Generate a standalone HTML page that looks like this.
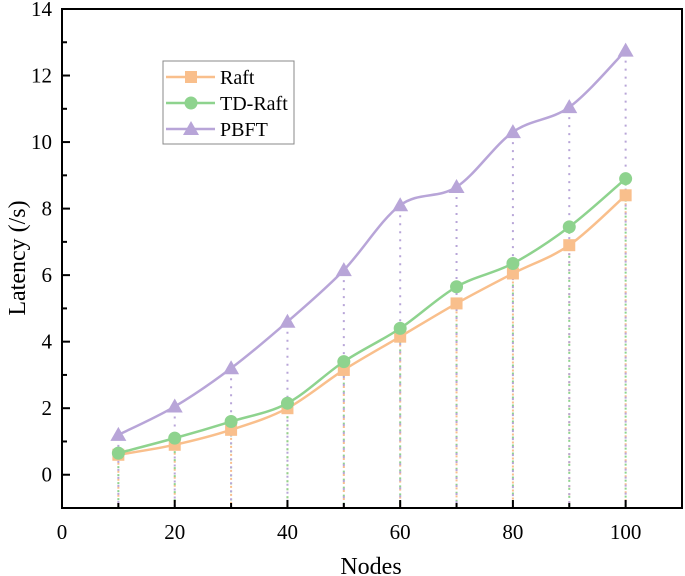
<!DOCTYPE html>
<html><head><meta charset="utf-8"><style>
body{margin:0;background:#fff;}
svg{display:block;font-family:"Liberation Serif",serif;}
</style></head><body>
<svg id="chart" width="685" height="576">
<g id="plot"></g>
</svg>
<script>
const nodes=[10,20,30,40,50,60,70,80,90,100];
const raft=[0.6,0.9,1.35,2.0,3.15,4.15,5.15,6.05,6.9,8.4];
const tdraft=[0.65,1.1,1.6,2.15,3.4,4.4,5.65,6.35,7.45,8.9];
const pbft=[1.2,2.05,3.2,4.6,6.15,8.1,8.65,10.3,11.05,12.75];
const yTicks=[0,2,4,6,8,10,12,14];
const xTicks=[0,20,40,60,80,100];
const seriesNames=["Raft","TD-Raft","PBFT"];

const L=62,R=682,T=9,B=508;
const X=v=>L+(v/110)*(R-L);
const Y=v=>B-(v+1)/15*(B-T);
const NS="http://www.w3.org/2000/svg";
const g=document.getElementById('plot');
function el(tag,attrs,parent){const e=document.createElementNS(NS,tag);for(const k in attrs)e.setAttribute(k,attrs[k]);(parent||g).appendChild(e);return e;}

const series=[{d:raft,c:"#f9bf8c",m:"square"},{d:tdraft,c:"#8ed38e",m:"circle"},{d:pbft,c:"#b8a5d8",m:"triangle"}];
series.forEach((s,si)=>{s.d.forEach((v,i)=>{
 const l=el('line',{x1:X(nodes[i]),x2:X(nodes[i]),y1:Y(v),y2:B,stroke:s.c,'stroke-width':2,'stroke-dasharray':'2,6','stroke-dashoffset':si*3});
 
 
});});
function marker(type,x,y,c,parent){
 let e;
 if(type==="square")e=el('rect',{x:x-6,y:y-6,width:12,height:12,fill:c},parent);
 else if(type==="circle")e=el('circle',{cx:x,cy:y,r:6.5,fill:c},parent);
 else e=el('polygon',{points:`${x},${y-8} ${x-8},${y+6} ${x+8},${y+6}`,fill:c},parent);
 return e;
}
function spline(pts){
 let d=`M${pts[0][0]},${pts[0][1]}`;
 for(let i=0;i<pts.length-1;i++){
  const p0=pts[Math.max(i-1,0)],p1=pts[i],p2=pts[i+1],p3=pts[Math.min(i+2,pts.length-1)];
  const c1=[p1[0]+(p2[0]-p0[0])/6,p1[1]+(p2[1]-p0[1])/6];
  const c2=[p2[0]-(p3[0]-p1[0])/6,p2[1]-(p3[1]-p1[1])/6];
  d+=` C${c1[0]},${c1[1]} ${c2[0]},${c2[1]} ${p2[0]},${p2[1]}`;
 }
 return d;
}
series.forEach((s,si)=>{
 const pts=s.d.map((v,i)=>[X(nodes[i]),Y(v)]);
 const p=el('path',{d:spline(pts),fill:'none',stroke:s.c,'stroke-width':2.5});
 
 
 pts.forEach(pt=>{
  const m=marker(s.m,pt[0],pt[1],s.c);
  
  
 });
});
const box=el('rect',{x:L,y:T,width:R-L,height:B-T,fill:'none',stroke:'#000','stroke-width':2});


for(let v=-1;v<=14;v++){
 const major=v%2===0;
 el('line',{x1:L,x2:L+(major?8:5),y1:Y(v),y2:Y(v),stroke:'#000','stroke-width':2});
}
yTicks.forEach(v=>{
 const t=el('text',{x:L-10,y:Y(v)+7,'text-anchor':'end','font-size':21});
 t.textContent=v;
 
 
});
for(let v=10;v<=100;v+=10){
 el('line',{x1:X(v),x2:X(v),y1:B,y2:B-(v%20===0?8:5),stroke:'#000','stroke-width':2});
}
xTicks.forEach(v=>{
 const t=el('text',{x:X(v),y:B+31,'text-anchor':'middle','font-size':21});
 t.textContent=v;
 
 
});
const xt=el('text',{x:371,y:574,'text-anchor':'middle','font-size':24});
xt.textContent="Nodes";


const yt=el('text',{x:0,y:0,'text-anchor':'middle','font-size':24,transform:'translate(25,258) rotate(-90)'});
yt.textContent="Latency (/s)";


const lg=el('g',{});


el('rect',{x:163,y:61,width:131,height:83,fill:'#fff',stroke:'#888','stroke-width':1},lg);
series.forEach((s,i)=>{
 const y=77+i*26;
 const e=el('g',{},lg);
 
 
 el('line',{x1:166,x2:215,y1:y,y2:y,stroke:s.c,'stroke-width':2.5},e);
 marker(s.m,191,y,s.c,e);
 const t=el('text',{x:220,y:y+7,'font-size':20},e);
 t.textContent=seriesNames[i];
});
</script>
</body></html>
